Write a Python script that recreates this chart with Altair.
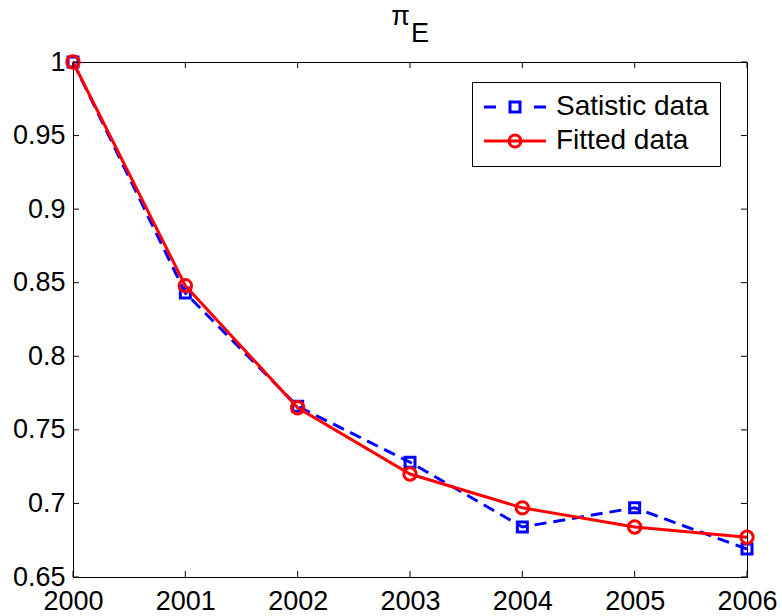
import altair as alt
import pandas as pd

# ---- data ----
years = [2000, 2001, 2002, 2003, 2004, 2005, 2006]
satistic = [1.0, 0.843, 0.766, 0.728, 0.684, 0.697, 0.669]
fitted = [1.0, 0.848, 0.765, 0.720, 0.697, 0.684, 0.677]
series_names = ["Satistic data", "Fitted data"]
x_ticks = [2000, 2001, 2002, 2003, 2004, 2005, 2006]
y_ticks = [0.65, 0.7, 0.75, 0.8, 0.85, 0.9, 0.95, 1.0]
title_main = ["π"]
title_sub = ["E"]

W, H = 674, 515
FONT = "Liberation Sans"
BLUE = "#0000ff"
RED = "#ff0000"

sat_df = pd.DataFrame({"year": years, "value": satistic, "series": series_names[0]})
fit_df = pd.DataFrame({"year": years, "value": fitted, "series": series_names[1]})
all_df = pd.concat([sat_df, fit_df], ignore_index=True)
xt_df = pd.DataFrame({"year": x_ticks})
yt_df = pd.DataFrame({"value": y_ticks})

xscale = alt.Scale(domain=[2000, 2006], nice=False, zero=False)
yscale = alt.Scale(domain=[0.65, 1.0], nice=False, zero=False)

xax = alt.Axis(values=x_ticks, format="d", title=None, labelPadding=11,
               labelFlush=False, labelOverlap=False)
yax = alt.Axis(values=y_ticks, format="~g", title=None, labelPadding=8,
               labelFlush=False, labelOverlap=False)

X = alt.X("year:Q", scale=xscale, axis=xax)
Y = alt.Y("value:Q", scale=yscale, axis=yax)

blue_line = alt.Chart(sat_df).mark_line(
    color=BLUE, strokeWidth=3, strokeDash=[12, 7]
).encode(x=X, y=Y)
blue_pts = alt.Chart(sat_df).mark_point(
    shape="square", filled=False, color=BLUE, strokeWidth=3, size=100, opacity=1
).encode(x=X, y=Y)
red_line = alt.Chart(fit_df).mark_line(color=RED, strokeWidth=3).encode(x=X, y=Y)
red_pts = alt.Chart(fit_df).mark_point(
    shape="circle", filled=False, color=RED, strokeWidth=3, size=154, opacity=1
).encode(x=X, y=Y)

# legend symbols: line + marker paths
p_blue = "M-2.583,0H-1.583M1.583,0H2.583M-0.417,-0.417H0.417V0.417H-0.417Z"
p_red = "M-2.583,0H2.583M0.5,0A0.5,0.5,0,1,1,-0.5,0A0.5,0.5,0,1,1,0.5,0Z"

leg = alt.Legend(
    title=None, orient="none", legendX=399, legendY=20,
    strokeColor="black", fillColor="white", padding=11, cornerRadius=0,
    symbolSize=576, symbolStrokeWidth=3, symbolOffset=18, labelOffset=27,
    labelFont=FONT, labelFontSize=28, labelColor="black", labelLimit=400,
    rowPadding=6,
)
legend_layer = alt.Chart(all_df).transform_filter("false").mark_point(
    filled=False, strokeWidth=3, opacity=1
).encode(
    x=X, y=Y,
    color=alt.Color("series:N", scale=alt.Scale(domain=series_names, range=[BLUE, RED]), legend=leg),
    shape=alt.Shape("series:N", scale=alt.Scale(domain=series_names, range=[p_blue, p_red]), legend=leg),
)

# inward ticks (box style)
tick_b = alt.Chart(xt_df).mark_rule(color="black", strokeWidth=1).encode(
    x=X, y=alt.value(H), y2=alt.value(H - 6))
tick_t = alt.Chart(xt_df).mark_rule(color="black", strokeWidth=1).encode(
    x=X, y=alt.value(0), y2=alt.value(6))
tick_l = alt.Chart(yt_df).mark_rule(color="black", strokeWidth=1).encode(
    y=Y, x=alt.value(0), x2=alt.value(6))
tick_r = alt.Chart(yt_df).mark_rule(color="black", strokeWidth=1).encode(
    y=Y, x=alt.value(W), x2=alt.value(W - 6))

# title π_E
t_main = alt.Chart(pd.DataFrame({"t": title_main})).mark_text(
    font=FONT, fontSize=27, align="right", baseline="alphabetic", color="black"
).encode(text="t:N", x=alt.value(337), y=alt.value(-37))
t_sub = alt.Chart(pd.DataFrame({"t": title_sub})).mark_text(
    font=FONT, fontSize=27, align="left", baseline="alphabetic", color="black"
).encode(text="t:N", x=alt.value(338), y=alt.value(-20))

chart = alt.layer(
    blue_line, blue_pts, red_line, red_pts, legend_layer,
    tick_b, tick_t, tick_l, tick_r, t_main, t_sub
).properties(
    width=W, height=H,
    autosize=alt.AutoSizeParams(type="none"),
    padding={"left": 73, "top": 62, "right": 35, "bottom": 39},
    background="white",
).configure_view(
    stroke="black", strokeWidth=1
).configure_axis(
    labelFont=FONT, labelFontSize=27, labelColor="black",
    ticks=False, domain=False, grid=False,
)

chart.save("out.html", embed_options={"renderer": "svg", "actions": False})
